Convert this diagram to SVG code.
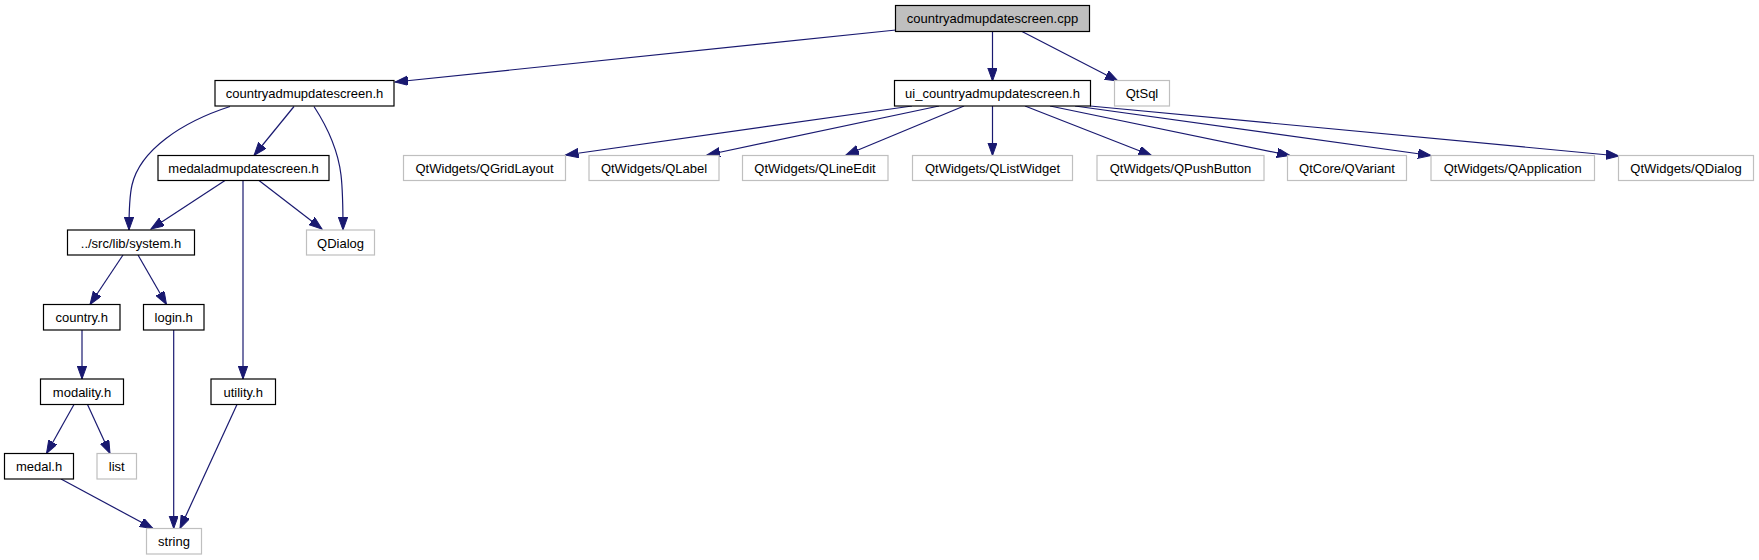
<svg xmlns="http://www.w3.org/2000/svg" width="1759" height="560" viewBox="0 0 1759 560">
<style>
.n rect{fill:#ffffff;stroke:#000000;stroke-width:1.2}
.x rect{fill:#ffffff;stroke:#bfbfbf;stroke-width:1.2}
.r rect{fill:#bfbfbf;stroke:#000000;stroke-width:1.2}
text{font-family:"Liberation Sans",Arial,sans-serif;font-size:13px;fill:#000000;text-anchor:middle}
#edges path{fill:none;stroke:#191970;stroke-width:1.2;marker-end:url(#ah)}
</style>
<defs>
<marker id="ah" markerUnits="userSpaceOnUse" markerWidth="14" markerHeight="10" refX="13" refY="4.7" orient="auto">
<path d="M0,0 L13,4.7 L0,9.4 Z" fill="#191970" stroke="#191970" stroke-width="1"/>
</marker>
</defs>
<rect width="1759" height="560" fill="#ffffff"/>
<g id="edges">
<path d="M896,30 L395,82"/>
<path d="M992.5,31.5 L992.5,81"/>
<path d="M1022,31.5 L1118,81"/>
<path d="M230,106.5 C182,122 140,150 132,185 C129,198 129,212 129,230"/>
<path d="M294,106.5 L254,155.5"/>
<path d="M314,106.5 C328,128 338,150 341,175 C343,192 343,210 343,230"/>
<path d="M225,180.5 L151,229"/>
<path d="M259,180.5 L322,229"/>
<path d="M243,180.5 L243,379"/>
<path d="M123,255 L90,304.5"/>
<path d="M138,255 L166.5,304.5"/>
<path d="M82,330 L82,379"/>
<path d="M74,404.5 L46.5,453.5"/>
<path d="M87.5,404.5 L110,453.5"/>
<path d="M173.7,330 L173.7,528.5"/>
<path d="M61,479 L153,528.5"/>
<path d="M237,404.5 L180,528.5"/>
<path d="M912,106 L565.5,155"/>
<path d="M939,106 L707,155"/>
<path d="M964,106 L846,155"/>
<path d="M992.5,106 L992.5,155.5"/>
<path d="M1025,106 L1151.5,155.5"/>
<path d="M1050,106 L1290,155.5"/>
<path d="M1075,106 L1431,155.5"/>
<path d="M1090,106 L1619,156"/>
</g>
<g id="node-cpp" class="r"><rect x="895.5" y="5.5" width="194" height="26"/><text x="992.5" y="23">countryadmupdatescreen.cpp</text></g>
<g id="node-countryh" class="n"><rect x="215" y="80.5" width="179" height="25.5"/><text x="304.5" y="98">countryadmupdatescreen.h</text></g>
<g id="node-uih" class="n"><rect x="894.5" y="80.5" width="196" height="25.5"/><text x="992.5" y="98">ui_countryadmupdatescreen.h</text></g>
<g id="node-qtsql" class="x"><rect x="1114.5" y="80.5" width="55" height="25.5"/><text x="1142" y="98">QtSql</text></g>
<g id="node-medalh" class="n"><rect x="158" y="155.5" width="171" height="25"/><text x="243.5" y="173">medaladmupdatescreen.h</text></g>
<g id="node-qgridlayout" class="x"><rect x="403.5" y="155.5" width="162" height="25"/><text x="484.5" y="173">QtWidgets/QGridLayout</text></g>
<g id="node-qlabel" class="x"><rect x="589" y="155.5" width="130" height="25"/><text x="654" y="173">QtWidgets/QLabel</text></g>
<g id="node-qlineedit" class="x"><rect x="742.5" y="155.5" width="145.5" height="25"/><text x="815" y="173">QtWidgets/QLineEdit</text></g>
<g id="node-qlistwidget" class="x"><rect x="912.5" y="155.5" width="160" height="25"/><text x="992.5" y="173">QtWidgets/QListWidget</text></g>
<g id="node-qpushbutton" class="x"><rect x="1097" y="155.5" width="167" height="25"/><text x="1180.5" y="173">QtWidgets/QPushButton</text></g>
<g id="node-qvariant" class="x"><rect x="1287.5" y="155.5" width="119" height="25"/><text x="1347" y="173">QtCore/QVariant</text></g>
<g id="node-qapplication" class="x"><rect x="1431" y="155.5" width="163.5" height="25"/><text x="1512.7" y="173">QtWidgets/QApplication</text></g>
<g id="node-qwdialog" class="x"><rect x="1618.5" y="155.5" width="135" height="25"/><text x="1686" y="173">QtWidgets/QDialog</text></g>
<g id="node-system" class="n"><rect x="67.5" y="230" width="127" height="25"/><text x="131" y="247.5">../src/lib/system.h</text></g>
<g id="node-qdialog" class="x"><rect x="306.5" y="230" width="68" height="25"/><text x="340.5" y="247.5">QDialog</text></g>
<g id="node-country" class="n"><rect x="43.5" y="304.5" width="76.5" height="25.5"/><text x="81.7" y="322">country.h</text></g>
<g id="node-login" class="n"><rect x="143.5" y="304.5" width="60.5" height="25.5"/><text x="173.7" y="322">login.h</text></g>
<g id="node-modality" class="n"><rect x="40.5" y="379" width="83" height="25.5"/><text x="82" y="396.5">modality.h</text></g>
<g id="node-utility" class="n"><rect x="211" y="379" width="64.5" height="25.5"/><text x="243.2" y="396.5">utility.h</text></g>
<g id="node-medal" class="n"><rect x="4.5" y="453.5" width="69" height="25.5"/><text x="39" y="471">medal.h</text></g>
<g id="node-list" class="x"><rect x="97" y="453.5" width="39.5" height="25.5"/><text x="116.7" y="471">list</text></g>
<g id="node-string" class="x"><rect x="146.5" y="528.5" width="55" height="25.5"/><text x="174" y="546">string</text></g>
</svg>
